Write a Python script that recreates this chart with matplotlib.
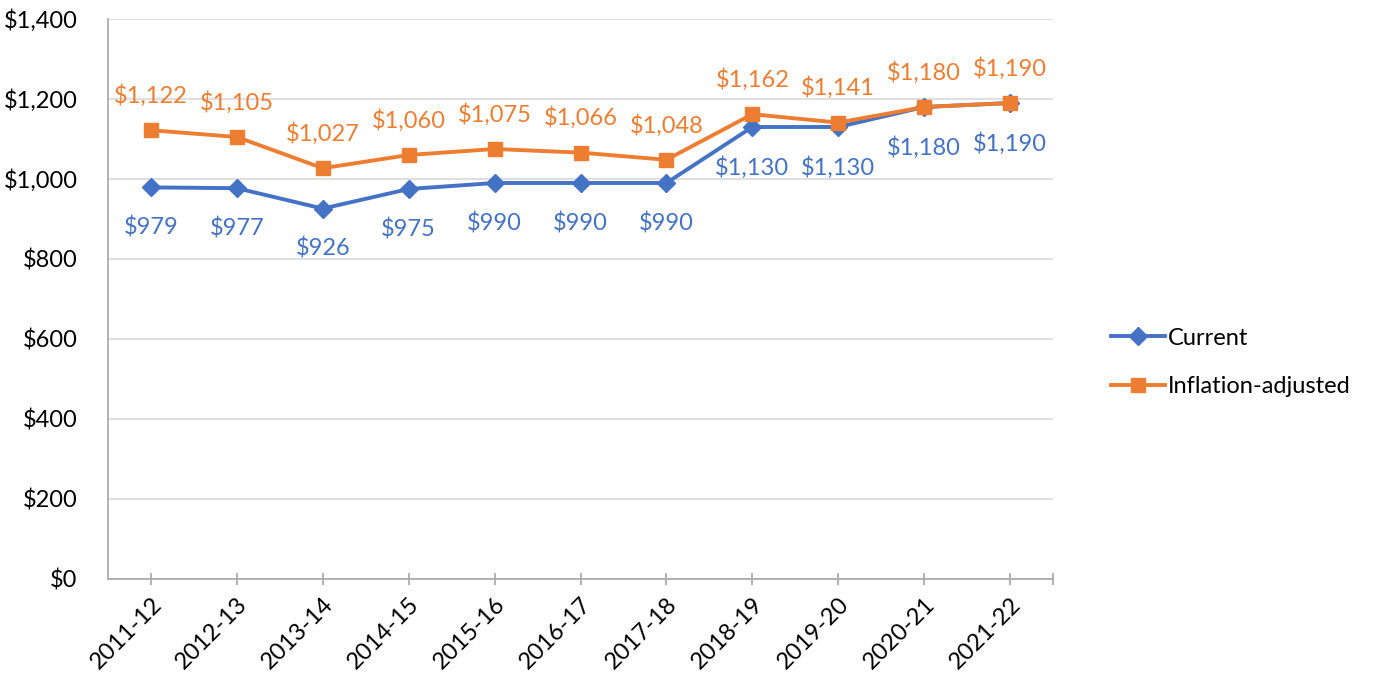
import numpy as np
import matplotlib.pyplot as plt
from matplotlib.ticker import FuncFormatter, FixedLocator

years = ['2011-12', '2012-13', '2013-14', '2014-15', '2015-16', '2016-17',
         '2017-18', '2018-19', '2019-20', '2020-21', '2021-22']
current = [979, 977, 926, 975, 990, 990, 990, 1130, 1130, 1180, 1190]
adjusted = [1122, 1105, 1027, 1060, 1075, 1066, 1048, 1162, 1141, 1180, 1190]

BLUE = '#4472C4'
ORANGE = '#ED7D31'
GRID = '#D9D9D9'
AXIS = '#A6A6A6'

plt.rcParams['font.family'] = ['Lato', 'DejaVu Sans']

fig = plt.figure(figsize=(13.79, 6.79), dpi=100)
ax = fig.add_axes([108 / 1379, 1 - 579 / 679, 945 / 1379, 560 / 679])

x = np.arange(len(years))
ax.plot(x, current, color=BLUE, lw=2.8, marker='D', ms=9, label='Current', zorder=3)
ax.plot(x, adjusted, color=ORANGE, lw=2.8, marker='s', ms=10.5, label='Inflation-adjusted', zorder=3)

for xi, v in zip(x, current):
    ax.annotate(f'${v:,}', (xi, v), xytext=(0, -29), textcoords='offset points',
                ha='center', va='center', color=BLUE, fontsize=17)
for xi, v in zip(x, adjusted):
    ax.annotate(f'${v:,}', (xi, v), xytext=(0, 25), textcoords='offset points',
                ha='center', va='center', color=ORANGE, fontsize=17)

ax.set_xlim(-0.5, len(years) - 0.5)
ax.set_ylim(0, 1400)
ax.set_yticks(np.arange(0, 1401, 200))
ax.yaxis.set_major_formatter(FuncFormatter(lambda v, p: f'${int(v):,}'))
ax.set_xticks(x)
ax.set_xticklabels(years, rotation=45, ha='right', rotation_mode='anchor')
ax.xaxis.set_minor_locator(FixedLocator([len(years) - 0.5]))

ax.grid(axis='y', color=GRID, lw=1.2)
ax.set_axisbelow(True)
for side in ['top', 'right']:
    ax.spines[side].set_visible(False)
for side in ['left', 'bottom']:
    ax.spines[side].set_color(AXIS)
    ax.spines[side].set_linewidth(1.2)

ax.tick_params(axis='y', length=0, pad=22, labelsize=17, labelcolor='black')
ax.tick_params(axis='x', which='both', direction='inout', length=9, width=1.2,
               color=AXIS, labelsize=17, pad=6)

ax.legend(loc='center left', bbox_to_anchor=(1.039, 0.387), frameon=False,
          fontsize=17, handlelength=2.3, handletextpad=0.1, labelspacing=1.15)

fig.savefig('out.png', dpi=100)
